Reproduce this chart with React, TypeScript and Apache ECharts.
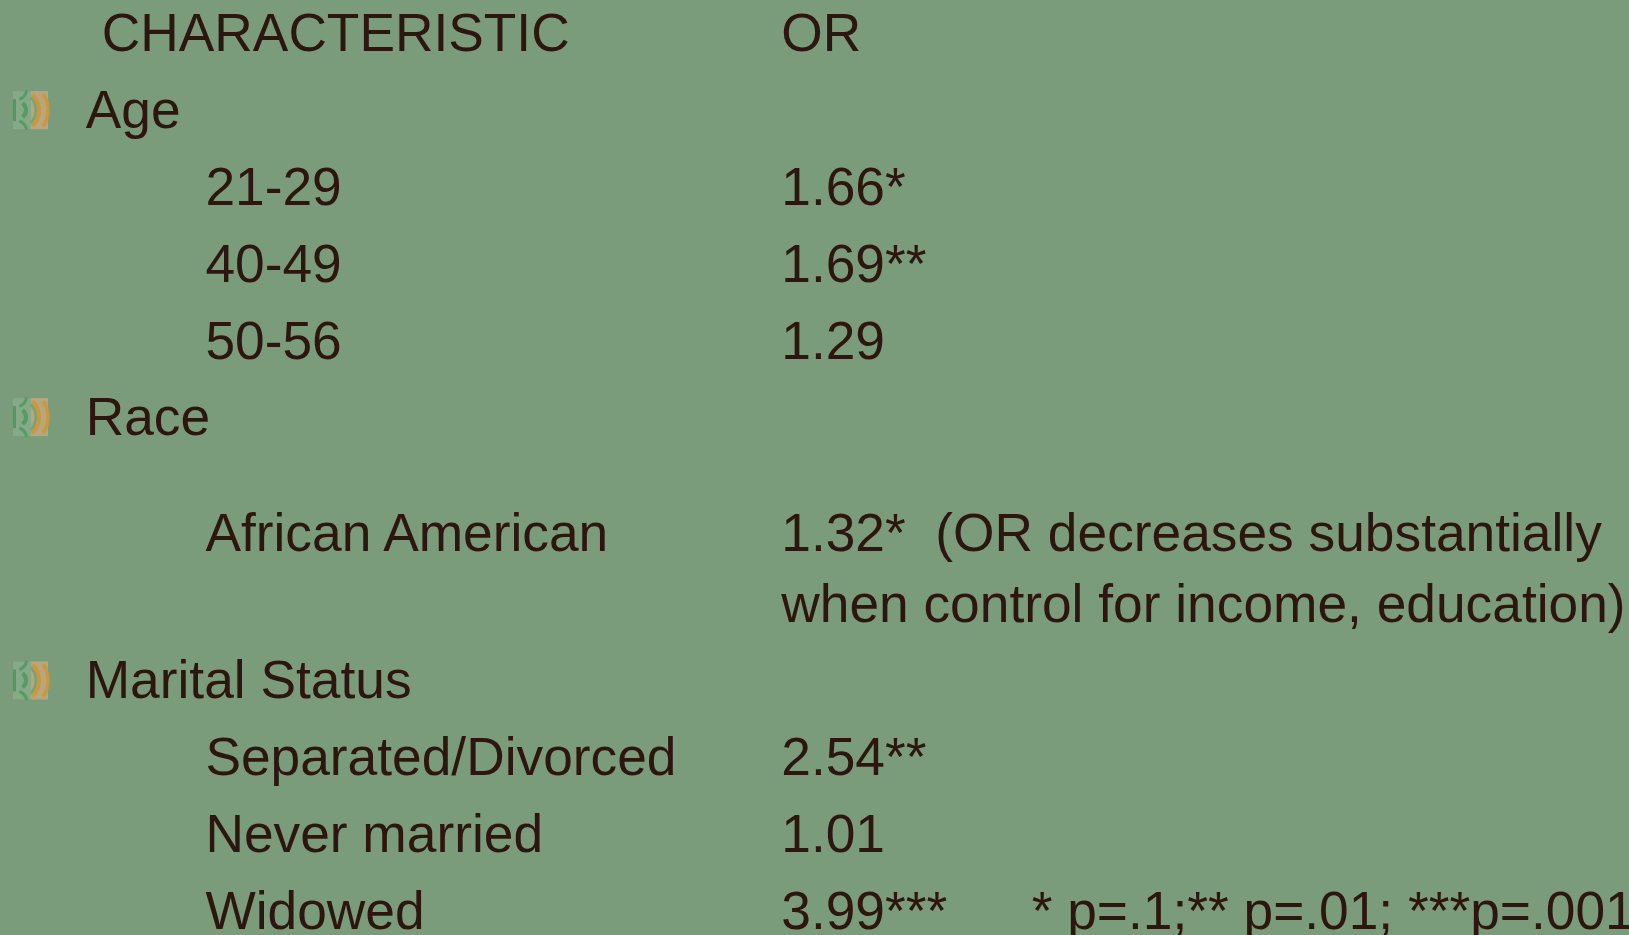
import React, { useEffect, useRef } from "react";
import * as echarts from "echarts";

const headers = ["CHARACTERISTIC", "OR"];
const categories = ["Age", "Race", "Marital Status"];
const rowLabels = ["21-29", "40-49", "50-56", "African American", "Separated/Divorced", "Never married", "Widowed"];
const rowValues = ["1.66*", "1.69**", "1.29", "1.32*  (OR decreases substantially", "2.54**", "1.01", "3.99***"];
const continuation = "when control for income, education)";
const footnote = "* p=.1;** p=.01; ***p=.001";

const BG = "#7a9c7a";
const INK = "#2e1610";
const FONT = "'Liberation Sans', Arial, sans-serif";
const SIZE = 53.3;
const S = 1629 / 1568;
const RAISE = 44;

const text = (s: string, x: number, baseline: number) => ({
  type: "text",
  x: x * S,
  y: (baseline - RAISE) * S,
  style: { text: s, fill: INK, font: `${SIZE}px ${FONT}`, textAlign: "left", textBaseline: "alphabetic" },
});

const bullet = (cy: number) => {
  const x = 13;
  const y = cy - 19;
  const green = "#4f9a5c";
  const orange = "#cf9636";
  const arc = (cx: number, acy: number, r: number, a0: number, a1: number, color: string, w: number) => ({
    type: "arc",
    shape: { cx, cy: acy, r, startAngle: a0, endAngle: a1 },
    style: { stroke: color, lineWidth: w, fill: "none", opacity: 0.9 },
  });
  return {
    type: "group",
    children: [
      { type: "rect", shape: { x, y, width: 18, height: 38 }, style: { fill: "#86a98a" } },
      { type: "rect", shape: { x: x + 18, y, width: 17, height: 38 }, style: { fill: "#b8a67c" } },
      { type: "line", shape: { x1: x + 1.5, y1: y + 8, x2: x + 1.5, y2: y + 30 }, style: { stroke: green, lineWidth: 3 } },
      arc(x + 2, y - 3, 12, 0.2, 1.2, green, 3),
      arc(x + 2, y + 41, 12, -1.2, -0.2, green, 3),
      arc(x + 4, y + 19, 9, -0.9, 0.9, green, 4),
      arc(x + 4, y + 19, 19, -0.75, 0.75, "#6ea47a", 3),
      arc(x + 4, y + 19, 22, -0.8, 0.8, orange, 4),
      arc(x + 4, y + 19, 31, -0.55, 0.55, orange, 3.5),
    ],
  };
};

export default function App() {
  const ref = useRef<HTMLDivElement>(null);
  useEffect(() => {
    document.body.style.margin = "0";
    const chart = echarts.init(ref.current!, undefined, { renderer: "svg" });
    const rowBase = [198, 272, 346, 531, 747, 821, 895];
    const catBase = [124, 419.5, 673];
    const elements: any[] = [
      text(headers[0], 98, 50),
      text(headers[1], 752, 50),
      ...categories.map((c, i) => text(c, 82.5, catBase[i])),
      ...rowLabels.map((l, i) => text(l, 197.7, rowBase[i])),
      ...rowValues.map((v, i) => text(v, 752, rowBase[i])),
      text(continuation, 752, 599),
      text(footnote, 993, 895),
      ...catBase.map((b) => bullet((b - 18) * S)),
    ];
    chart.setOption({ animation: false, backgroundColor: BG, graphic: { elements } });
    return () => chart.dispose();
  }, []);
  return <div ref={ref} style={{ width: 1629, height: 935, overflow: "hidden" }} />;
}
